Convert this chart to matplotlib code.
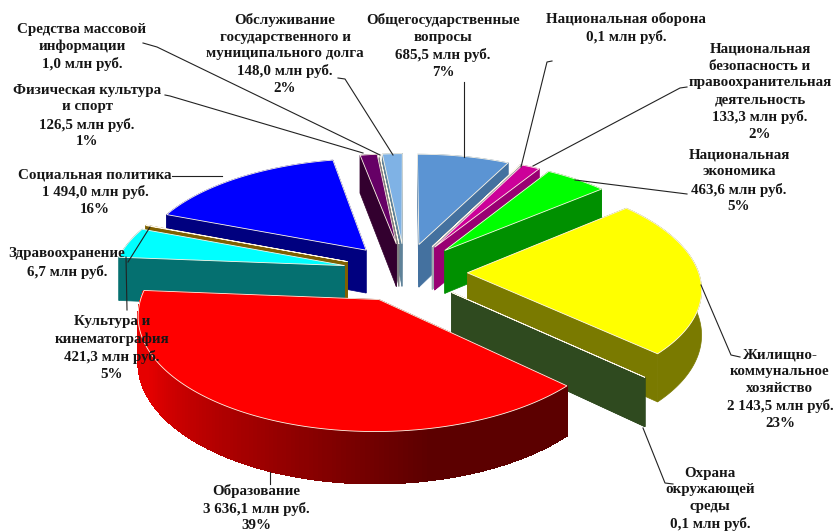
import numpy as np
import matplotlib
matplotlib.use("Agg")
import matplotlib.pyplot as plt
from matplotlib.patches import Polygon

# budget items, clockwise from the top of the pie
names = [
    "Общегосударственные\nвопросы", "Национальная оборона",
    "Национальная\nбезопасность и\nправоохранительная\nдеятельность",
    "Национальная\nэкономика", "Жилищно-\nкоммунальное\nхозяйство",
    "Охрана\nокружающей\nсреды", "Образование", "Культура и\nкинематография",
    "Здравоохранение", "Социальная политика", "Физическая культура\nи спорт",
    "Средства массовой\nинформации",
    "Обслуживание\nгосударственного и\nмуниципального долга",
]
values = [685.5, 0.1, 133.3, 463.6, 2143.5, 0.1, 3636.1, 421.3, 6.7, 1494.0, 126.5, 1.0, 148.0]
value_text = ["685,5", "0,1", "133,3", "463,6", "2 143,5", "0,1", "3 636,1", "421,3",
              "6,7", "1 494,0", "126,5", "1,0", "148,0"]
percent_text = ["7%", "", "2%", "5%", "23%", "", "39%", "5%", "", "16%", "1%", "", "2%"]

top_colors = ["#5b94d3", "#c8d8e8", "#cc0099", "#00ff00", "#ffff00", "#3a5a28", "#ff0000",
              "#00ffff", "#c08a10", "#0000ff", "#660066", "#b0b0b0", "#7fb2e5"]
wall_colors = ["#44719f", "#a0a8b0", "#990073", "#009000", "#7a7a00", "#2f4a1f", "#5c0000",
               "#057070", "#806000", "#00007f", "#33002f", "#808080", "#5f8299"]
# the red wall fades along the arc
arc_colors_end = {6: "#e60000"}

# label centres in pixels
label_pos = [(443, 46), (626, 28), (760, 92), (739, 181), (780, 389), (710, 499), (256, 508),
             (112, 348), (67, 263), (95, 192), (87, 116), (82, 47), (285, 54)]

leaders = [
    [(464, 82), (464, 157)],
    [(552, 61), (547, 62), (521, 167)],
    [(687, 87), (680, 88), (533, 166)],
    [(687, 194), (575, 180)],
    [(740, 357), (731, 355), (701, 285)],
    [(673, 484), (665, 483), (643, 428)],
    [(270, 472), (270, 484)],
    [(127, 310), (126, 257)],
    [(128, 262), (150, 227)],
    [(172, 176), (222, 176)],
    [(165, 95), (170, 96), (363, 153)],
    [(143, 43), (157, 47), (380, 155)],
    [(338, 78), (345, 79), (393, 155)],
]

# projection of the tilted pie to image pixels
CX, CY = 405, 272
SCALE_X, SCALE_Y = 231, 108
PERSP = 0.125
EXPLODE = 0.27
DEPTH = 44


def project(x, y, drop=0.0):
    s = 1 / (1 + PERSP * y)
    return np.column_stack([CX + SCALE_X * x * s, CY - SCALE_Y * y * s + drop * s])


def mix(c1, c2, t):
    a = np.array(matplotlib.colors.to_rgb(c1))
    b = np.array(matplotlib.colors.to_rgb(c2))
    return tuple(a + (b - a) * t)


def wall(ax, x, y, color, z, smooth=True):
    up = project(x, y)
    down = project(x, y, DEPTH)
    ax.add_patch(Polygon(np.vstack([up, down[::-1]]), closed=True, facecolor=color,
                         edgecolor=color, linewidth=0.5, zorder=z, antialiased=smooth))


def draw_slice(ax, i, start, end, z):
    mid = (start + end) / 2
    ox, oy = EXPLODE * np.sin(mid), EXPLODE * np.cos(mid)
    th = np.linspace(start, end, max(int(np.degrees(end - start)), 2) + 1)
    arc_x = ox + np.sin(th)
    arc_y = oy + np.cos(th)
    wall_col = wall_colors[i]

    # parts further back go first, so walls facing us stay on top
    pieces = [(arc_y.mean(), "arc"), (oy / 2 + arc_y[0] / 2, 0), (oy / 2 + arc_y[-1] / 2, -1)]
    pieces.sort(key=lambda p: -p[0])
    for n, (_, kind) in enumerate(pieces):
        zz = z + n * 0.01
        if kind == "arc" and i in arc_colors_end:
            for a in range(len(th) - 1):
                # stays dark on the right, brightens towards the left end
                t = np.clip((a / (len(th) - 2) - 0.25) / 0.55, 0, 1)
                col = mix(wall_col, arc_colors_end[i], t)
                wall(ax, arc_x[a:a + 2], arc_y[a:a + 2], col, zz, smooth=False)
        elif kind == "arc":
            wall(ax, arc_x, arc_y, wall_col, zz)
        else:
            wall(ax, np.array([ox, arc_x[kind]]), np.array([oy, arc_y[kind]]), wall_col, zz)

    outline_x = np.concatenate([[ox], arc_x])
    outline_y = np.concatenate([[oy], arc_y])
    ax.add_patch(Polygon(project(outline_x, outline_y), closed=True, facecolor=top_colors[i],
                         edgecolor="#fff8e8", linewidth=0.6, zorder=z + 0.5))


fig = plt.figure(figsize=(8.35, 5.31), dpi=100)
ax = fig.add_axes([0, 0, 1, 1])
ax.set_xlim(0, 835)
ax.set_ylim(531, 0)
ax.axis("off")

fractions = np.array(values) / np.sum(values)
ends = np.cumsum(fractions) * 2 * np.pi
starts = ends - fractions * 2 * np.pi

# back to front
mids = (starts + ends) / 2
order = np.argsort(-np.cos(mids))
for rank, i in enumerate(order):
    draw_slice(ax, i, starts[i], ends[i], 2 + rank)

for pts in leaders:
    xs, ys = zip(*pts)
    ax.plot(xs, ys, color="#222222", lw=0.8, zorder=30)

for i, name in enumerate(names):
    text = name + "\n" + value_text[i] + " млн руб."
    if percent_text[i]:
        text += "\n" + percent_text[i]
    ax.text(label_pos[i][0], label_pos[i][1], text, ha="center", va="center", ma="center",
            family="Liberation Serif", weight="bold", fontsize=10.8, linespacing=1.38,
            color="#161616", zorder=40)

fig.savefig("out.png", dpi=100)
